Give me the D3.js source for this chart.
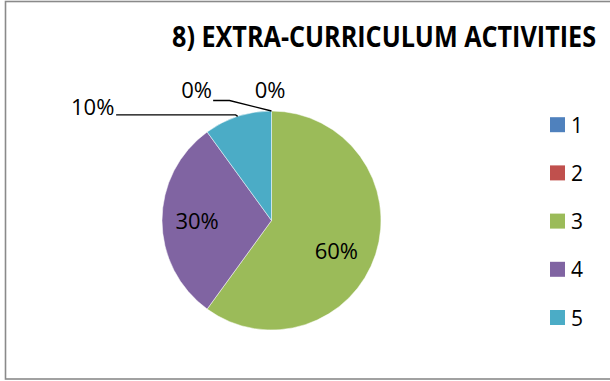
<!DOCTYPE html>
<html>
<head>
<meta charset="utf-8">
<script src="https://cdn.jsdelivr.net/npm/d3@7"></script>
<style>
  html, body { margin: 0; padding: 0; background: #fff; }
  svg { display: block; }
</style>
</head>
<body>
<svg id="chart" width="610" height="381"></svg>
<script>
// ---- data ----
const categories = ["1", "2", "3", "4", "5"];
const values = [0, 0, 60, 30, 10];
const percentLabels = ["0%", "0%", "60%", "30%", "10%"];
const colors = ["#4F81BD", "#C0504D", "#9BBB59", "#8064A2", "#4BACC6"];
const title = "8) EXTRA-CURRICULUM ACTIVITIES";

// ---- layout ----
const W = 610, H = 381;
const cx = 271.5, cy = 220.5, R = 109.5;
const svg = d3.select("#chart");
const FONT = "'Open Sans', 'Liberation Sans', sans-serif";

// outer frame
svg.append("rect")
  .attr("x", 5.5).attr("y", 1.5)
  .attr("width", W + 10).attr("height", 377.5)
  .attr("fill", "#fff").attr("stroke", "#8a8a8a").attr("stroke-width", 1.6);

// title (narrow-ish bold, stretched vertically to mimic the condensed original face)
svg.append("text")
  .attr("transform", "translate(172,47) scale(1,1.3)")
  .attr("x", 0).attr("y", 0)
  .attr("font-family", FONT).attr("font-weight", "bold")
  .attr("font-size", 22)
  .attr("textLength", 424).attr("lengthAdjust", "spacingAndGlyphs")
  .attr("fill", "#000")
  .text(title);

// pie
const pie = d3.pie().sort(null).value(d => d.value);
const arcs = pie(categories.map((c, i) => ({ cat: c, value: values[i], label: percentLabels[i], color: colors[i] })));
const arc = d3.arc().innerRadius(0).outerRadius(R);

const g = svg.append("g").attr("transform", `translate(${cx},${cy})`);
g.selectAll("path.slice")
  .data(arcs.filter(a => a.data.value > 0))
  .join("path")
  .attr("class", "slice")
  .attr("d", arc)
  .attr("fill", d => d.data.color)
  .attr("stroke", "#fff").attr("stroke-width", 0.5);

// label placement (Excel best-fit style)
const inside = d3.arc().innerRadius(R * 0.68).outerRadius(R * 0.68);
function edgePoint(a) {
  const m = (a.startAngle + a.endAngle) / 2;
  return [R * Math.sin(m), -R * Math.cos(m)];
}
// outside-label offsets relative to slice edge point (layout only)
const outside = {
  "1": { dx: -75, dy: -13, leader: true, knee: 42 },
  "2": { dx: -1.5, dy: -13, leader: false },
  "5": { dx: -145, dy: -1.5, leader: true, knee: 2 }
};
// inside-label nudges (layout only)
const insideNudge = { "3": [-6, 15], "4": [0, 8] };
const labelFont = 22;

arcs.forEach(a => {
  const key = a.data.cat;
  if (outside[key]) {
    const o = outside[key];
    const [ex, ey] = edgePoint(a);
    const tx = ex + o.dx, ty = ey + o.dy;
    if (o.leader) {
      const textW = a.data.label.length * labelFont * 0.62;
      const startX = tx + textW / 2 + 3;
      const lineY = key === "5" ? ty : ty + 2.5;
      const kneeX = ex - o.knee;
      g.append("path")
        .attr("d", d3.line()([[startX, lineY], [kneeX, lineY], [ex, ey]]))
        .attr("fill", "none").attr("stroke", "#000").attr("stroke-width", 1.3);
    }
    g.append("text")
      .attr("x", tx).attr("y", ty)
      .attr("text-anchor", "middle")
      .attr("font-family", FONT).attr("font-size", labelFont)
      .attr("fill", "#000")
      .text(a.data.label);
  }
});

// inside labels
g.selectAll("text.in")
  .data(arcs.filter(a => insideNudge[a.data.cat]))
  .join("text")
  .attr("class", "in")
  .attr("x", d => inside.centroid(d)[0] + insideNudge[d.data.cat][0])
  .attr("y", d => inside.centroid(d)[1] + insideNudge[d.data.cat][1])
  .attr("text-anchor", "middle")
  .attr("font-family", FONT).attr("font-size", labelFont)
  .attr("fill", "#000")
  .text(d => d.data.label);

// legend
const ly = d3.scalePoint().domain(categories).range([124.7, 317.5]);
const leg = svg.append("g");
categories.forEach((c, i) => {
  leg.append("rect")
    .attr("x", 550).attr("y", ly(c) - 7.5)
    .attr("width", 15).attr("height", 15)
    .attr("fill", colors[i]);
  leg.append("text")
    .attr("x", 571).attr("y", ly(c) + 8)
    .attr("font-family", FONT).attr("font-size", 21)
    .attr("fill", "#000")
    .text(c);
});
</script>
</body>
</html>
